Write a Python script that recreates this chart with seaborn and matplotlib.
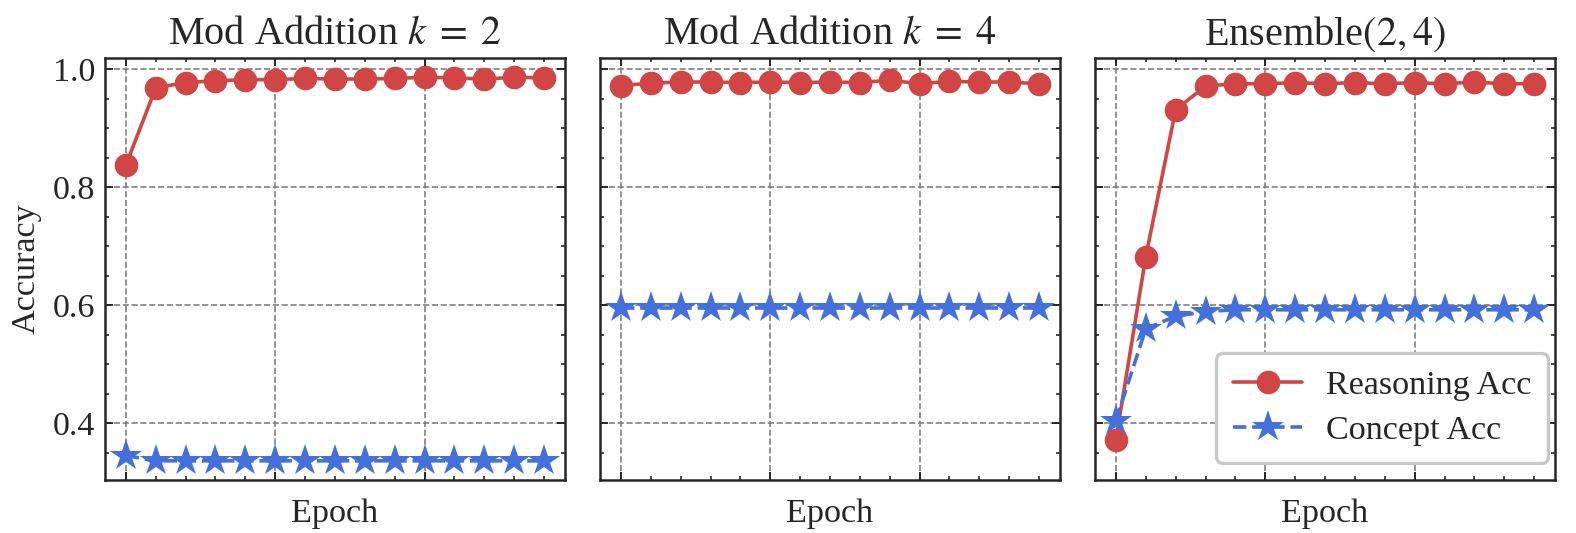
import numpy as np
import pandas as pd
import matplotlib
matplotlib.use("Agg")
import matplotlib.pyplot as plt
from matplotlib.ticker import MultipleLocator, NullFormatter, FormatStrFormatter
import seaborn as sns

# data (15 epochs per run)
epochs = list(range(15))
titles = ["Mod Addition $k\\;=\\;2$", "Mod Addition $k\\;=\\;4$", "Ensemble$(2,4)$"]

reason_k2 = [0.837, 0.968, 0.977, 0.980, 0.982, 0.982, 0.984, 0.983, 0.983, 0.984,
             0.986, 0.985, 0.983, 0.986, 0.985]
concept_k2 = [0.345, 0.336, 0.336, 0.336, 0.336, 0.336, 0.336, 0.336, 0.336, 0.336,
              0.336, 0.336, 0.336, 0.336, 0.336]

reason_k4 = [0.972, 0.976, 0.978, 0.978, 0.977, 0.978, 0.977, 0.978, 0.977, 0.981,
             0.975, 0.979, 0.978, 0.978, 0.975]
concept_k4 = [0.595, 0.595, 0.595, 0.595, 0.595, 0.595, 0.595, 0.595, 0.595, 0.595,
              0.595, 0.595, 0.595, 0.595, 0.595]

reason_ens = [0.372, 0.682, 0.931, 0.971, 0.975, 0.975, 0.977, 0.975, 0.977, 0.975,
              0.977, 0.975, 0.978, 0.975, 0.975]
concept_ens = [0.404, 0.560, 0.581, 0.589, 0.592, 0.592, 0.592, 0.592, 0.592, 0.592,
               0.592, 0.592, 0.592, 0.592, 0.592]

runs = [(reason_k2, concept_k2), (reason_k4, concept_k4), (reason_ens, concept_ens)]

red = "#D24545"
blue = "#4470DC"

sns.set_style("ticks")
plt.rcParams.update({
    "font.family": ["Liberation Serif", "DejaVu Serif"],
    "mathtext.fontset": "stix",
    "font.size": 12,
    "xtick.direction": "in",
    "ytick.direction": "in",
    "xtick.top": True,
    "ytick.right": True,
    "xtick.major.size": 3,
    "ytick.major.size": 3,
    "xtick.minor.size": 1.5,
    "ytick.minor.size": 1.5,
    "xtick.minor.visible": True,
    "ytick.minor.visible": True,
    "axes.linewidth": 0.9,
    "xtick.major.width": 0.7,
    "ytick.major.width": 0.7,
    "xtick.minor.width": 0.6,
    "ytick.minor.width": 0.6,
})

fig, axes = plt.subplots(1, 3, figsize=(7.88, 2.665), dpi=200, sharey=True)
fig.subplots_adjust(left=0.0666, right=0.9867, top=0.891, bottom=0.0994, wspace=0.076)

for ax, title, (reason, concept) in zip(axes, titles, runs):
    df = pd.DataFrame({"Epoch": epochs, "Reasoning": reason, "Concept": concept})
    sns.lineplot(data=df, x="Epoch", y="Reasoning", ax=ax, color=red, marker="o",
                 markersize=8.5, markeredgewidth=0, linewidth=1.3, label="Reasoning Acc")
    sns.lineplot(data=df, x="Epoch", y="Concept", ax=ax, color=blue, marker="*",
                 markersize=12, markeredgewidth=0, linewidth=1.3, linestyle="--",
                 label="Concept Acc")
    ax.set_title(title, fontsize=14.5, pad=5)
    ax.set_xlabel("Epoch", fontsize=12.3, labelpad=3)
    ax.set_ylabel("")
    ax.xaxis.set_major_locator(MultipleLocator(5))
    ax.xaxis.set_minor_locator(MultipleLocator(1))
    ax.xaxis.set_major_formatter(NullFormatter())
    ax.yaxis.set_major_locator(MultipleLocator(0.2))
    ax.yaxis.set_minor_locator(MultipleLocator(0.05))
    ax.grid(True, which="major", linestyle="--", color="gray", linewidth=0.6)
    ax.tick_params(labelsize=12.3)
    ax.get_legend().remove()

axes[0].set_ylabel("Accuracy", fontsize=12.3)
axes[0].yaxis.set_major_formatter(FormatStrFormatter("%.1f"))

leg = axes[2].legend(loc="lower right", bbox_to_anchor=(1.0, 0.025), fontsize=12.3,
                     frameon=True, fancybox=True, handlelength=2.0, handletextpad=0.7,
                     borderpad=0.5, labelspacing=0.4, borderaxespad=0.2)
leg.get_frame().set_edgecolor("#c8c8c8")
leg.get_frame().set_linewidth(1.2)
leg.get_frame().set_alpha(1.0)

fig.savefig("out.png", dpi=200)
